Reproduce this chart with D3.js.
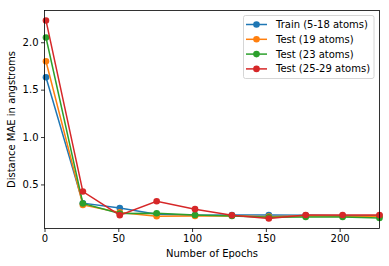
<!DOCTYPE html>
<html>
<head>
<meta charset="utf-8">
<script src="https://cdn.jsdelivr.net/npm/d3@7"></script>
<style>
	body { margin: 0; background: #fff; }
	svg text { font-family: "DejaVu Sans", sans-serif; fill: #000; }
</style>
</head>
<body>
<svg id="chart" width="389" height="266"></svg>
<script>
let epochs = [1, 26, 51, 76, 102, 127, 152, 177, 202, 227];

let seriesNames = ["Train (5-18 atoms)", "Test (19 atoms)", "Test (23 atoms)", "Test (25-29 atoms)"];

let trainMae = [1.63, 0.302, 0.251, 0.185, 0.175, 0.178, 0.178, 0.175, 0.170, 0.170];
let test19Mae = [1.80, 0.284, 0.205, 0.165, 0.168, 0.170, 0.160, 0.170, 0.165, 0.165];
let test23Mae = [2.05, 0.299, 0.194, 0.196, 0.178, 0.168, 0.154, 0.157, 0.157, 0.147];
let test2529Mae = [2.23, 0.425, 0.176, 0.323, 0.239, 0.175, 0.140, 0.178, 0.178, 0.178];

let yTicks = [0.5, 1.0, 1.5, 2.0];
let xTicks = [0, 50, 100, 150, 200];

let colors = ["#1f77b4", "#ff7f0e", "#2ca02c", "#d62728"];

function drawChart()
{
	let svg = d3.select("#chart");

	let left = 44.5, right = 379.5, top = 10.5, bottom = 228.5;

	let x = d3.scaleLinear().domain([0, 227]).range([left, right]);

	let y = d3.scaleLinear().domain([0.035, 2.335]).range([bottom, top]);

	let allSeries = [trainMae, test19Mae, test23Mae, test2529Mae];

	let line = d3.line().x(function(d, i) { return x(epochs[i]); }).y(function(d) { return y(d); });

	let plot = svg.append("g");

	allSeries.forEach(function(values, k) {
		plot.append("path").attr("d", line(values)).attr("fill", "none").attr("stroke", colors[k]).attr("stroke-width", 1.5);
		plot.selectAll(".pt" + k).data(values).enter().append("circle")
			.attr("cx", function(d, i) { return x(epochs[i]); })
			.attr("cy", function(d) { return y(d); })
			.attr("r", 3.3)
			.attr("fill", colors[k]);
	});

	// axes
	let xAxis = svg.append("g").attr("transform", "translate(0," + bottom + ")")
		.call(d3.axisBottom(x).tickValues(xTicks).tickFormat(d3.format("d")).tickSize(3.5).tickSizeOuter(0));
	let yAxis = svg.append("g").attr("transform", "translate(" + left + ",0)")
		.call(d3.axisLeft(y).tickValues(yTicks).tickFormat(d3.format(".1f")).tickSize(3.5).tickSizeOuter(0));

	[xAxis, yAxis].forEach(function(a) {
		a.select(".domain").remove();
		a.selectAll("line").attr("stroke", "#000").attr("stroke-width", 0.8);
		a.selectAll("text").style("font-size", "10px").style("font-family", "DejaVu Sans");
	});
	xAxis.selectAll("text").attr("dy", "0.71em").attr("y", 6);
	yAxis.selectAll("text").attr("x", -6);

	svg.append("rect").attr("x", left).attr("y", top).attr("width", right - left).attr("height", bottom - top)
		.attr("fill", "none").attr("stroke", "#000").attr("stroke-width", 0.8);

	svg.append("text").text("Number of Epochs").attr("x", (left + right) / 2).attr("y", 257)
		.attr("text-anchor", "middle").style("font-size", "10px");

	svg.append("text").text("Distance MAE in angstroms")
		.attr("transform", "translate(15," + ((top + bottom) / 2) + ") rotate(-90)")
		.attr("text-anchor", "middle").style("font-size", "10px");

	// legend
	let legend = svg.append("g");
	legend.append("rect").attr("x", 243.5).attr("y", 15.5).attr("width", 130.5).attr("height", 63)
		.attr("rx", 2).attr("fill", "#fff").attr("fill-opacity", 0.8).attr("stroke", "#ccc").attr("stroke-width", 0.8);

	let entry = legend.selectAll(".entry").data(seriesNames).enter().append("g")
		.attr("transform", function(d, i) { return "translate(0," + (24.5 + i * 14.8) + ")"; });
	entry.append("line").attr("x1", 246).attr("x2", 267).attr("y1", 0).attr("y2", 0)
		.attr("stroke", function(d, i) { return colors[i]; }).attr("stroke-width", 1.5);
	entry.append("circle").attr("cx", 256.5).attr("cy", 0).attr("r", 3.3)
		.attr("fill", function(d, i) { return colors[i]; });
	entry.append("text").text(function(d) { return d; }).attr("x", 276).attr("y", 0).attr("dy", "0.35em")
		.style("font-size", "10px");
}

drawChart();
</script>
</body>
</html>
